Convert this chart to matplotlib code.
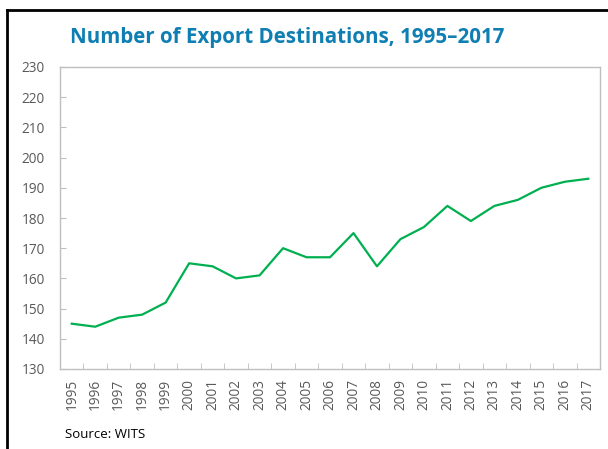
import matplotlib
matplotlib.use("Agg")
import matplotlib.pyplot as plt
from matplotlib.lines import Line2D
import numpy as np

# Data
years = [str(y) for y in range(1995, 2018)]
destinations = [145, 144, 147, 148, 152, 165, 164, 160, 161, 170, 167, 167,
                175, 164, 173, 177, 184, 179, 184, 186, 190, 192, 193]
y_ticks = list(range(130, 231, 10))

W, H = 608, 449
fig = plt.figure(figsize=(W / 100, H / 100), dpi=100)
plt.rcParams['font.family'] = ['Open Sans', 'DejaVu Sans']

# axes box in pixels: left 60, right 600, top 67, bottom 369
ax = fig.add_axes([60 / W, 1 - 369 / H, 540 / W, 302 / H])

x = np.arange(len(years))
ax.plot(x, destinations, color="#00B050", linewidth=1.6)

ax.set_xlim(-0.5, len(years) - 0.5)
ax.set_ylim(130, 230)
ax.set_yticks(y_ticks)
ax.set_xticks(x)
ax.set_xticklabels(years, rotation=90)
ax.set_xticks(np.arange(0.5, len(years) - 1, 1), minor=True)

for s in ax.spines.values():
    s.set_color("#BFBFBF")
    s.set_linewidth(1.0)

ax.tick_params(axis="y", direction="in", length=4, color="#BFBFBF",
               labelsize=9.8, labelcolor="#595959", pad=11)
ax.tick_params(axis="x", which="major", length=0, labelsize=9.8,
               labelcolor="#595959", pad=7)
ax.tick_params(axis="x", which="minor", direction="in", length=4,
               color="#BFBFBF")

fig.text(70 / W, 1 - 37 / H, "Number of Export Destinations, 1995\u20132017",
         fontsize=14.8, fontweight="bold", color="#0F7EB2",
         ha="left", va="center")
fig.text(65 / W, 1 - 435 / H, "Source: WITS", fontsize=9.5, color="#000000",
         ha="left", va="center")

# outer black frame (top and left edges visible)
fig.add_artist(Line2D([7 / W, 1], [1 - 9.5 / H, 1 - 9.5 / H],
                      color="black", linewidth=2, transform=fig.transFigure))
fig.add_artist(Line2D([7 / W, 7 / W], [0, 1 - 9.5 / H],
                      color="black", linewidth=2, transform=fig.transFigure))

fig.savefig("out.png", dpi=100)
